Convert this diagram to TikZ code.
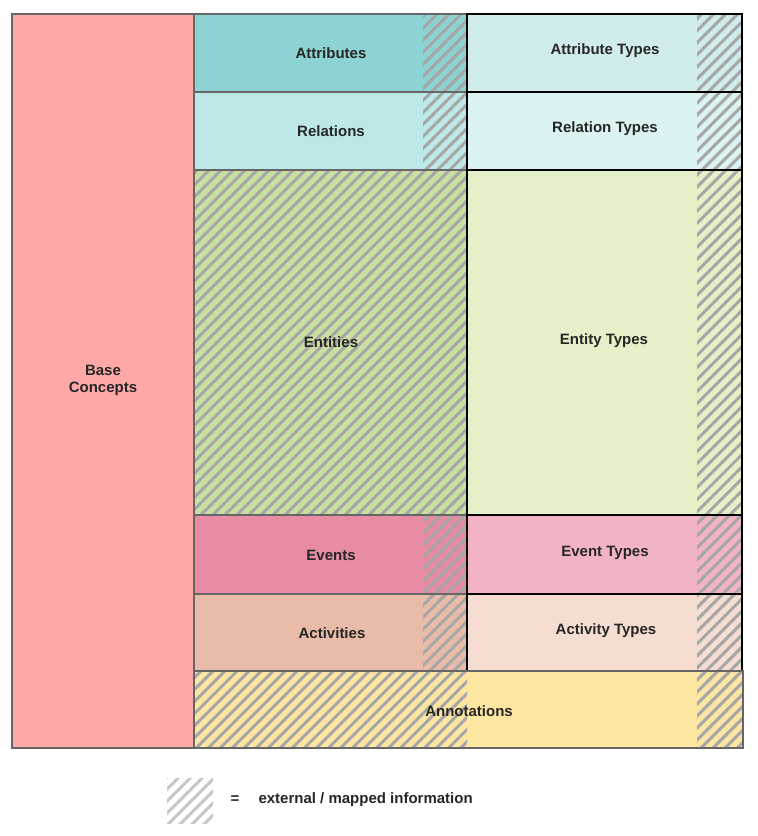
\documentclass[tikz,border=0pt]{standalone}
\usepackage{fontspec}
\setmainfont{Liberation Sans}
\usetikzlibrary{patterns.meta}
\definecolor{baseC}{HTML}{FFA8A8}
\definecolor{attrC}{HTML}{8ED3D3}
\definecolor{relC}{HTML}{BDE8E8}
\definecolor{attrtC}{HTML}{D0ECEC}
\definecolor{reltC}{HTML}{DCF3F3}
\definecolor{entC}{HTML}{C9E0A0}
\definecolor{enttC}{HTML}{E4F1C8}
\definecolor{evC}{HTML}{E88CA4}
\definecolor{evtC}{HTML}{F2B4C4}
\definecolor{actC}{HTML}{E8BCA8}
\definecolor{acttC}{HTML}{F5DDD2}
\definecolor{annC}{HTML}{FDE6A2}
\begin{document}
\begin{tikzpicture}[x=1pt,y=-1pt,
		label/.style={font=\bfseries\fontsize{15}{17}\selectfont,text=black!85,align=center},
		leftbox/.style={draw=black!60,line width=1.2pt},
		rightbox/.style={draw=black,line width=1.5pt},
		hatch/.style={pattern={Lines[angle=45,distance=8.5pt,line width=3pt]},pattern color=black!35,fill opacity=0.7},
	]
	\useasboundingbox (0,0) rectangle (758,836);
	% base column
	\filldraw[fill=baseC,leftbox] (12,14) rectangle (194,748);
	% left column
	\fill[attrC] (194,14) rectangle (467,92);
	\fill[relC] (194,92) rectangle (467,170);
	\fill[entC] (194,170) rectangle (467,515);
	\fill[evC] (194,515) rectangle (467,594);
	\fill[actC] (194,594) rectangle (467,671);
	% right column
	\fill[attrtC] (467,14) rectangle (742,92);
	\fill[reltC] (467,92) rectangle (742,170);
	\fill[enttC] (467,170) rectangle (742,515);
	\fill[evtC] (467,515) rectangle (742,594);
	\fill[acttC] (467,594) rectangle (742,671);
	\fill[annC] (194,671) rectangle (743,748);
	% hatched parts
	\fill[hatch] (423,14) rectangle (467,170);
	\fill[hatch] (194,170) rectangle (467,515);
	\fill[hatch] (423,515) rectangle (467,671);
	\fill[hatch] (194,671) rectangle (467,748);
	\fill[hatch] (697,14) rectangle (742,748);
	% borders
	\foreach \ya/\yb in {14/92,92/170,170/515,515/594,594/671}{
		\draw[leftbox] (194,\ya) rectangle (467,\yb);
		\draw[rightbox] (467,\ya) rectangle (742,\yb);
	}
	\draw[leftbox] (194,671) rectangle (743,748);
	% labels
	\node[label] (base) at (103,380) {Base\\Concepts};
	\node[label] (attr) at (331,53) {Attributes};
	\node[label] (rel) at (331,131) {Relations};
	\node[label] (ent) at (331,342) {Entities};
	\node[label] (ev) at (331,555) {Events};
	\node[label] (act) at (332,633) {Activities};
	\node[label] (attrt) at (605,51) {Attribute Types};
	\node[label] (relt) at (605,129) {Relation Types};
	\node[label] (entt) at (604,341) {Entity Types};
	\node[label] (evt) at (605,553) {Event Types};
	\node[label] (actt) at (606,631) {Activity Types};
	\node[label] (ann) at (469,711) {Annotations};
	% legend
	\fill[pattern={Lines[angle=45,distance=8.5pt,line width=3pt]},pattern color=black!22] (167,778) rectangle (213,823);
	\node[label] (eq) at (235,800) {=};
	\node[label,anchor=west] (legend) at (255,800) {external / mapped information};
\end{tikzpicture}
\end{document}
